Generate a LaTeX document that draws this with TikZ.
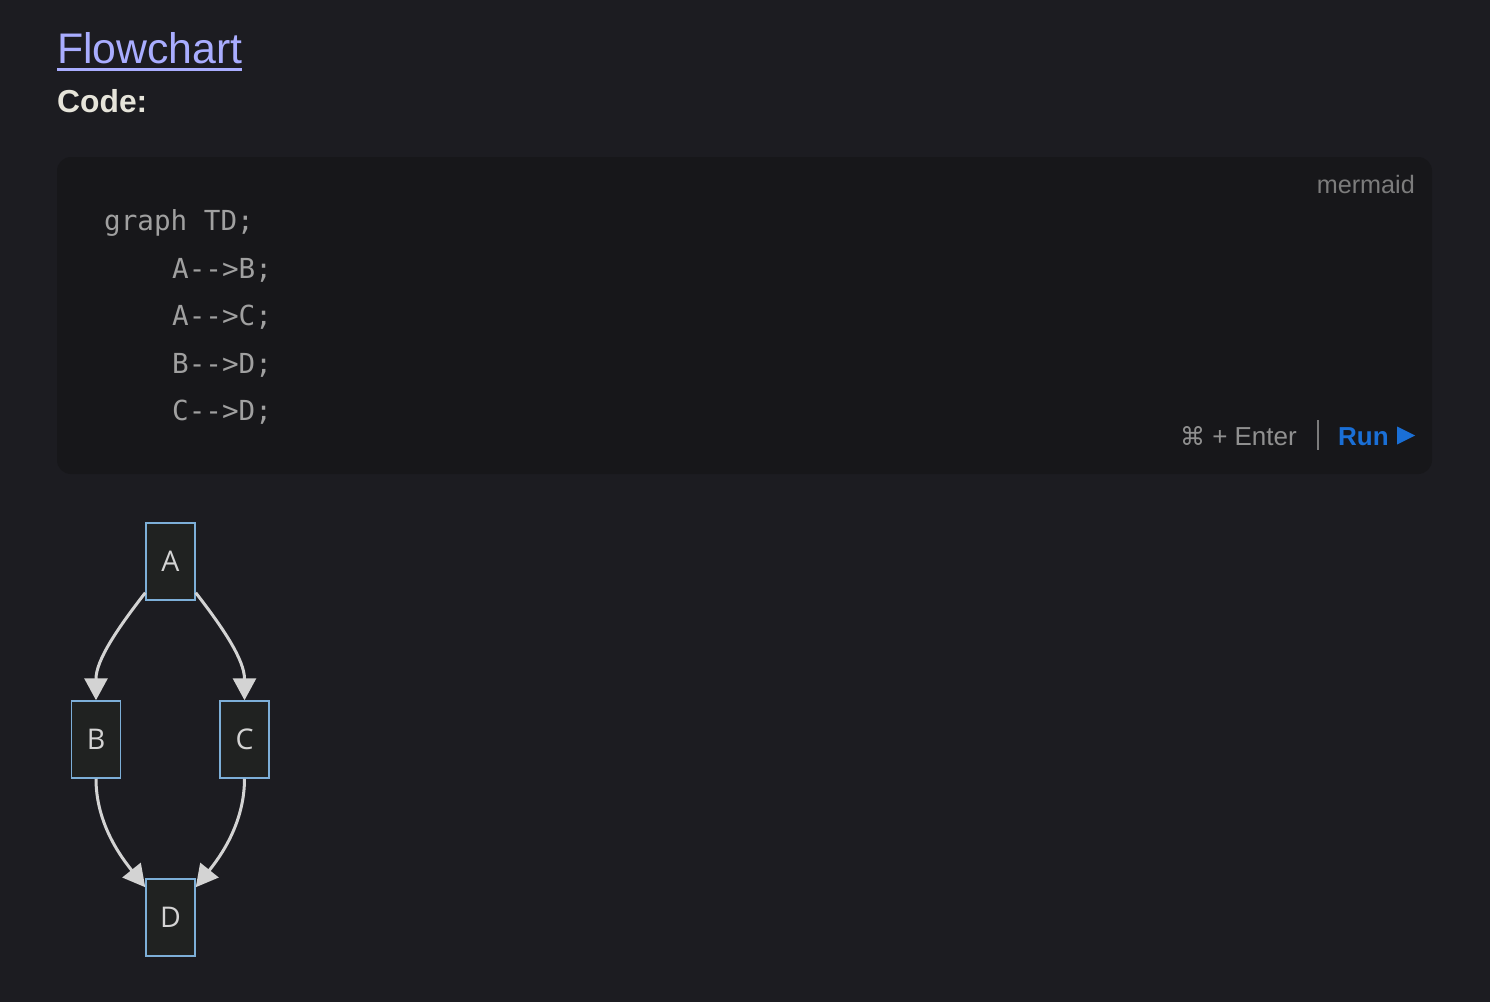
\documentclass[tikz,border=0pt]{standalone}
\usepackage{fontspec}
\setmainfont{Liberation Sans}
\newfontfamily\codefont{DejaVu Sans Mono}
\newfontfamily\symfont{DejaVu Sans}
\newfontfamily\nodefont{Open Sans}
\usetikzlibrary{arrows.meta}
\definecolor{bgc}{HTML}{1C1C21}
\definecolor{codebg}{HTML}{17171A}
\definecolor{titlec}{HTML}{A9ADFF}
\definecolor{headc}{HTML}{E6E4DA}
\definecolor{codec}{HTML}{A0A0A0}
\definecolor{mutedc}{HTML}{7C7C7C}
\definecolor{runc}{HTML}{1A6FD6}
\definecolor{nodefill}{HTML}{202221}
\definecolor{nodeline}{HTML}{7DAFD8}
\definecolor{nodetext}{HTML}{D4D4D4}
\definecolor{edgec}{HTML}{D3D3D3}
\tikzset{
  box/.style={draw=nodeline, fill=nodefill, line width=1.5pt, minimum width=49pt, minimum height=77pt, inner sep=0pt, text=nodetext, font=\nodefont\fontsize{28.5}{32}\selectfont},
  edge/.style={draw=edgec, line width=3pt, -{Triangle[length=22pt,width=23pt]}},
  codeline/.style={anchor=base west, inner sep=0pt, text=codec, font=\codefont\fontsize{27.6}{30}\selectfont}
}
\begin{document}
\begin{tikzpicture}[x=1pt,y=-1pt]
\fill[bgc] (0,0) rectangle (1490,1002);
\useasboundingbox (0,0) rectangle (1490,1002);
% title
\node[anchor=base west, inner sep=0pt, text=titlec, font=\fontsize{42.8}{46}\selectfont] (title) at (57,63) {Flowchart};
\fill[titlec] (57,67.5) rectangle (242,71);
\node[anchor=base west, inner sep=0pt, text=headc, font=\bfseries\fontsize{31.8}{36}\selectfont] (code) at (57,112) {Code:};
% code block
\fill[codebg, rounded corners=14pt] (57,157) rectangle (1432,474);
\node[codeline] (l1) at (104,230) {graph TD;};
\node[codeline] (l2) at (172,278) {A-{}->B;};
\node[codeline] (l3) at (172,325) {A-{}->C;};
\node[codeline] (l4) at (172,373) {B-{}->D;};
\node[codeline] (l5) at (172,420) {C-{}->D;};
\node[anchor=base east, inner sep=0pt, text=mutedc, font=\fontsize{25.2}{28}\selectfont] (lang) at (1415,193) {mermaid};
\node[anchor=base east, inner sep=0pt, text=mutedc!85!white, font=\fontsize{26}{30}\selectfont] (kbd) at (1297,445) {{\symfont\fontsize{25}{28}\selectfont ⌘} + Enter};
\draw[mutedc, line width=2pt] (1318,420) -- (1318,450);
\node[anchor=base west, inner sep=0pt, text=runc, font=\bfseries\fontsize{26}{30}\selectfont] (run) at (1338,445) {Run};
\fill[runc] (1397,426.5) -- (1415,435.5) -- (1397,444.5) -- cycle;
% graph
\node[box] (A) at (170.5,561.5) {A};
\node[box] (B) at (96,739.5) {B};
\node[box] (C) at (244.5,739.5) {C};
\node[box] (D) at (170.5,917.5) {D};
\draw[edge] ([yshift=8pt]A.south west) .. controls +(-28,36) and +(0,-40) .. (B.north);
\draw[edge] ([yshift=8pt]A.south east) .. controls +(28,36) and +(0,-40) .. (C.north);
\draw[edge] (B.south) .. controls +(0,45) and +(-24,-30) .. ([yshift=-9pt]D.north west);
\draw[edge] (C.south) .. controls +(0,45) and +(24,-30) .. ([yshift=-9pt]D.north east);
\end{tikzpicture}
\end{document}
